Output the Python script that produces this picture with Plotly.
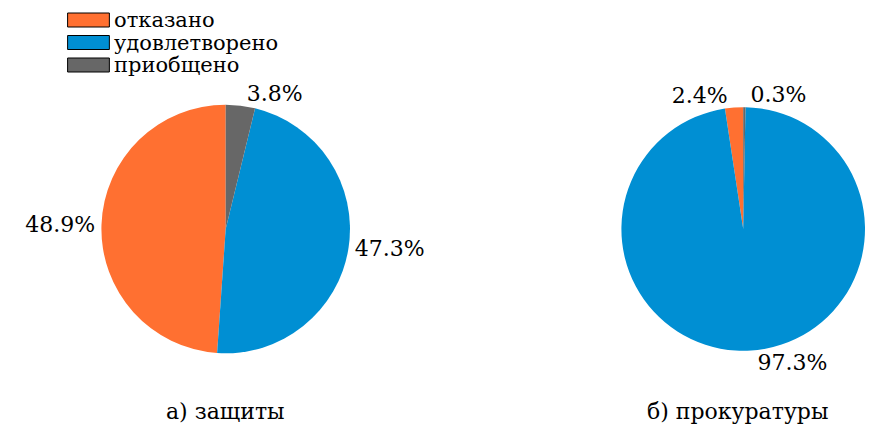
import plotly.graph_objects as go

labels = ["отказано", "удовлетворено", "приобщено"]
defence = [48.9, 47.3, 3.8]
prosecution = [2.4, 97.3, 0.3]
subtitles = ["а) защиты", "б) прокуратуры"]
colors = ["#FF7031", "#008FD3", "#676767"]

FONT = "DejaVu Serif"
W, H = 870, 428


def px(x):
    return x / W


def py(y):
    return 1 - y / H


fig = go.Figure()
for vals, dom in [(defence, [102, 352]), (prosecution, [625, 870])]:
    first = vals[0] / sum(vals) * 360
    fig.add_trace(go.Pie(
        labels=labels, values=vals, sort=False, direction="counterclockwise",
        rotation=-first,
        marker=dict(colors=colors, line=dict(width=0)),
        textposition="outside", texttemplate="%{percent:.1%}",
        textfont=dict(family=FONT, size=22, color="black"),
        domain=dict(x=[px(dom[0]), px(dom[1])], y=[py(354), py(104)]),
        showlegend=False, hoverinfo="label+percent",
    ))

for i, t in enumerate(subtitles):
    fig.add_annotation(text=t, x=px([227, 742][i]), y=py(411), xref="paper", yref="paper",
                       showarrow=False, font=dict(family=FONT, size=22, color="black"),
                       xanchor="center", yanchor="middle")

# legend (manual, to mimic wide rectangular swatches)
for i, (lab, col) in enumerate(zip(labels, colors)):
    yc = 20 + 22.5 * i
    fig.add_shape(type="rect", xref="paper", yref="paper",
                  x0=px(68), x1=px(110), y0=py(yc + 7), y1=py(yc - 7),
                  fillcolor=col, line=dict(color="black", width=1))
    fig.add_annotation(text=lab, x=px(113), y=py(yc), xref="paper", yref="paper",
                       showarrow=False, font=dict(family=FONT, size=21, color="black"),
                       xanchor="left", yanchor="middle")

fig.update_layout(
    width=W, height=H, margin=dict(l=0, r=0, t=0, b=0),
    paper_bgcolor="white", plot_bgcolor="white", showlegend=False,
)
fig.write_html("out.html", config={"displayModeBar": False},
               post_script="document.body.style.margin='0';")
